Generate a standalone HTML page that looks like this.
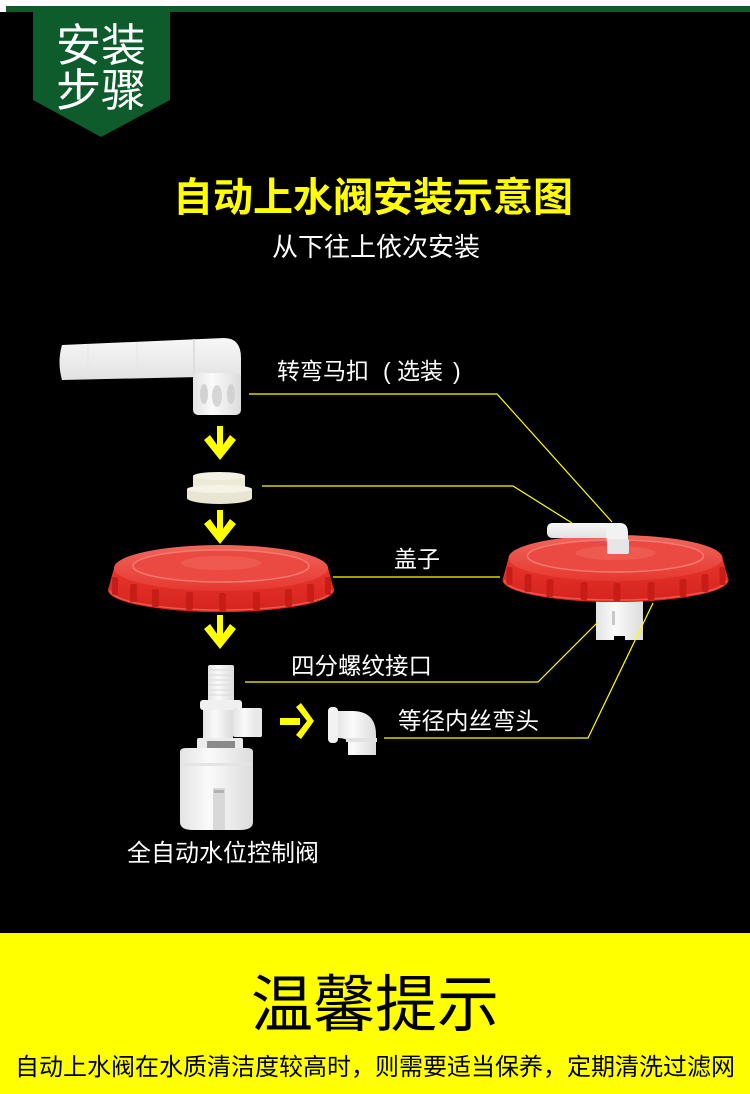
<!DOCTYPE html>
<html><head><meta charset="utf-8"><style>
html,body{margin:0;padding:0;background:#000;}
svg{display:block;}
text{font-family:"Liberation Sans","Noto Sans CJK SC",sans-serif;}
</style></head><body>
<svg width="750" height="1094" viewBox="0 0 750 1094" xmlns="http://www.w3.org/2000/svg">
<defs>
<linearGradient id="wt" x1="0" y1="0" x2="0" y2="1"><stop offset="0" stop-color="#f7f7f7"/><stop offset="1" stop-color="#e2e2e2"/></linearGradient>
<linearGradient id="wh" x1="0" y1="0" x2="1" y2="0"><stop offset="0" stop-color="#e4e4e4"/><stop offset="0.4" stop-color="#fafafa"/><stop offset="1" stop-color="#dcdcdc"/></linearGradient>
<linearGradient id="rtop" x1="0" y1="0" x2="0" y2="1"><stop offset="0" stop-color="#f0675d"/><stop offset="1" stop-color="#e6372f"/></linearGradient>
<linearGradient id="rskirt" x1="0" y1="0" x2="0" y2="1"><stop offset="0" stop-color="#e8352d"/><stop offset="1" stop-color="#d4241d"/></linearGradient>
<g id="cap">
<ellipse cx="221" cy="590" rx="113" ry="22" fill="#d11f18"/>
<path d="M114,568 L108,590 A113,22 0 0 0 334,590 L328,568 Z" fill="url(#rskirt)"/>
<ellipse cx="221" cy="568" rx="107" ry="23" fill="url(#rtop)"/>
<ellipse cx="221" cy="566" rx="88" ry="16" fill="#ea4a41" stroke="#f47a70" stroke-width="1.5"/>
<ellipse cx="221" cy="563" rx="40" ry="7" fill="#ef5a50"/>
<path d="M110,590 A111,20 0 0 0 332,590" fill="none" stroke="#f0564c" stroke-width="1.5"/>
<g fill="#c81d16">
<rect x="112" y="577" width="6" height="18" rx="2"/>
<rect x="130" y="584" width="7" height="18" rx="2"/>
<rect x="152" y="589" width="7" height="18" rx="2"/>
<rect x="186" y="592" width="7" height="18" rx="2"/>
<rect x="219" y="593" width="7" height="18" rx="2"/>
<rect x="253" y="592" width="7" height="18" rx="2"/>
<rect x="285" y="589" width="7" height="18" rx="2"/>
<rect x="307" y="584" width="7" height="18" rx="2"/>
<rect x="325" y="577" width="6" height="18" rx="2"/>
</g>
</g>
<g id="adown">
<rect x="217" y="426" width="6" height="23" fill="#ffff00"/>
<polygon points="204,440 210,435 220,449 230,435 236,440 220,460" fill="#ffff00"/>
</g>
</defs>

<!-- header -->
<rect x="0" y="0" width="750" height="6" fill="#ffffff"/>
<rect x="0" y="6" width="6" height="6" fill="#ffffff"/>
<rect x="6" y="6" width="744" height="6" fill="#0e5c2c"/>
<polygon points="33,11 170,11 170,100 101,137 33,100" fill="#0e5c2c"/>
<text x="56" y="61" font-size="45" fill="#ffffff">安装</text>
<text x="56" y="106" font-size="45" fill="#ffffff">步骤</text>

<text x="373" y="211" font-size="40" font-weight="bold" fill="#ffff00" text-anchor="middle">自动上水阀安装示意图</text>
<text x="376" y="256" font-size="26" fill="#ffffff" text-anchor="middle">从下往上依次安装</text>

<!-- pipe elbow -->
<path d="M62,345 L224,338 Q241,338 241,358 L241,378 L199,378 L199,377 L62,380 Q57,362 62,345 Z" fill="url(#wt)"/>
<line x1="88" y1="344" x2="88" y2="379" stroke="#e6e6e6" stroke-width="1"/>
<line x1="137" y1="342" x2="137" y2="378" stroke="#e6e6e6" stroke-width="1"/>
<line x1="194" y1="339" x2="194" y2="377" stroke="#dedede" stroke-width="2"/>
<rect x="193" y="373" width="48" height="42" rx="5" fill="url(#wh)"/>
<ellipse cx="204" cy="394" rx="4" ry="10" fill="#d2d2d2"/>
<ellipse cx="217" cy="396" rx="5" ry="11" fill="#d6d6d6"/>
<ellipse cx="231" cy="394" rx="4" ry="10" fill="#d2d2d2"/>

<use href="#adown"/>

<!-- small nut -->
<path d="M193,476 L245,476 L245,490 L193,490 Z" fill="#ece9d6"/>
<ellipse cx="219" cy="476" rx="26" ry="4" fill="#f4f2e4"/>
<path d="M187,489 L252,489 L252,498 A32.5,6 0 0 1 187,498 Z" fill="#e8e5d2"/>
<ellipse cx="219.5" cy="489" rx="32.5" ry="4" fill="#f5f3e6"/>

<use href="#adown" transform="translate(0,84)"/>

<!-- left cap -->
<use href="#cap"/>

<use href="#adown" transform="translate(0,189)"/>

<!-- valve -->
<rect x="208" y="665" width="26" height="37" rx="2" fill="url(#wh)"/>
<g stroke="#dadada" stroke-width="1">
<line x1="209" y1="670" x2="233" y2="670"/><line x1="209" y1="675" x2="233" y2="675"/>
<line x1="209" y1="680" x2="233" y2="680"/><line x1="209" y1="685" x2="233" y2="685"/>
<line x1="209" y1="690" x2="233" y2="690"/><line x1="209" y1="695" x2="233" y2="695"/>
</g>
<rect x="200" y="700" width="42" height="10" rx="3" fill="#f0f0f0"/>
<rect x="203" y="710" width="30" height="32" fill="url(#wh)"/>
<rect x="233" y="708" width="29" height="29" rx="2" fill="url(#wh)"/>
<rect x="255" y="708" width="7" height="29" rx="2" fill="#e8e8e8"/>
<rect x="197" y="738" width="46" height="12" rx="2" fill="#ececec"/>
<rect x="207" y="741" width="28" height="12" fill="#8a8a8a"/>
<path d="M180,752 Q180,748 186,748 L247,748 Q253,748 253,752 L253,822 Q253,830 240,830 L193,830 Q180,830 180,822 Z" fill="url(#wh)"/>
<rect x="182" y="763" width="69" height="3" fill="#e4e4e4"/>
<rect x="213" y="788" width="12" height="42" fill="#d8d8d8"/>
<rect x="214" y="790" width="10" height="3" fill="#b0b0b0"/>

<!-- right arrow -->
<rect x="280" y="718" width="20" height="7" fill="#ffff00"/>
<polygon points="296,707 301,703 314,721 301,739 296,735 307,721" fill="#ffff00"/>

<!-- equal elbow -->
<path d="M337,711 L352,711 Q376,711 376,735 L376,755 L348,755 L348,742 Q347,738 337,738 Z" fill="url(#wh)"/>
<rect x="328" y="707" width="10" height="36" rx="4" fill="#f2f2f2"/>
<rect x="346" y="738" width="31" height="4" fill="#e2e2e2"/>

<!-- right assembly -->
<path d="M596,600 L643,600 L643,640 L625,640 L625,636 L614,636 L614,640 L596,640 Z" fill="url(#wh)"/>
<rect x="612" y="611" width="3" height="14" fill="#c8c8c8"/>
<use href="#cap" transform="translate(394.5,-10)"/>
<rect x="547" y="523" width="70" height="15" rx="5" fill="url(#wt)"/>
<path d="M605,523 L620,523 Q628,523 628,533 L628,553 L608,553 Z" fill="#f2f2f2"/>
<rect x="607" y="539" width="22" height="15" rx="2" fill="#e6e6e6"/>

<!-- connectors -->
<g stroke="#ffff00" stroke-width="1.2" fill="none">
<polyline points="249,394 497,394 612,522"/>
<polyline points="262,486 513,486 572,523"/>
<line x1="333" y1="577" x2="500" y2="577"/>
<polyline points="245,682 538,682 597,623"/>
<polyline points="384,738 588,738 653,603"/>
</g>

<!-- labels -->
<g fill="#ffffff" font-size="23">
<text y="379"><tspan x="277">转弯马扣</tspan><tspan x="383">(</tspan><tspan x="397">选装</tspan><tspan x="453">)</tspan></text>
<text x="394" y="567">盖子</text>
<text x="291" y="674" font-size="23.5">四分螺纹接口</text>
<text x="398" y="729" font-size="23.5">等径内丝弯头</text>
<text x="127" y="861" font-size="24">全自动水位控制阀</text>
</g>

<!-- bottom -->
<rect x="0" y="933" width="750" height="161" fill="#ffff00"/>
<text x="375" y="1026" font-size="62" fill="#000" text-anchor="middle">温馨提示</text>
<text x="375" y="1075" font-size="24" fill="#000" text-anchor="middle">自动上水阀在水质清洁度较高时，则需要适当保养，定期清洗过滤网</text>
</svg>
</body></html>
